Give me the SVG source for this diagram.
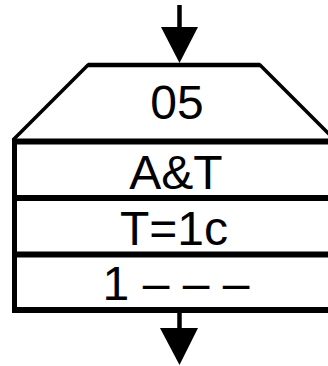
<svg xmlns="http://www.w3.org/2000/svg" width="328" height="366" viewBox="0 0 328 366">
<style>
.t{font-family:"Liberation Sans",Arial,sans-serif;font-size:48px;fill:#000;text-anchor:middle}
.thick{stroke:#000;stroke-width:6;fill:none}
.slant{stroke:#000;stroke-width:3.5;fill:none;stroke-linejoin:miter}
.stem{stroke:#000;stroke-width:4.5}
</style>
<rect width="328" height="366" fill="#fff"/>
<g id="connectors">
<line class="stem" x1="179.5" y1="5" x2="179.5" y2="30"/>
<polygon points="161,27 198,27 179.5,63" fill="#000"/>
<line class="stem" x1="179.5" y1="310" x2="179.5" y2="331"/>
<polygon points="160,328 198,328 179.5,365" fill="#000"/>
</g>
<g id="node-05">
<polyline class="slant" points="13,140 88,65 260,65 335,140"/>
<line x1="88" y1="65" x2="260" y2="65" stroke="#000" stroke-width="4.5"/>
<text class="t" x="177" y="119">05</text>
</g>
<g id="node-AT">
<line class="thick" x1="12" y1="141.5" x2="340" y2="141.5"/>
<text class="t" x="176" y="189">A&amp;T</text>
</g>
<g id="node-T1c">
<line class="thick" x1="12" y1="198" x2="340" y2="198"/>
<text class="t" x="174" y="245">T=1c</text>
</g>
<g id="node-1">
<line class="thick" x1="12" y1="254.5" x2="340" y2="254.5"/>
<text class="t" x="176" y="300">1 – – –</text>
<line class="thick" x1="12" y1="310" x2="340" y2="310"/>
<line x1="14.5" y1="139" x2="14.5" y2="313" stroke="#000" stroke-width="5"/>
</g>
</svg>
